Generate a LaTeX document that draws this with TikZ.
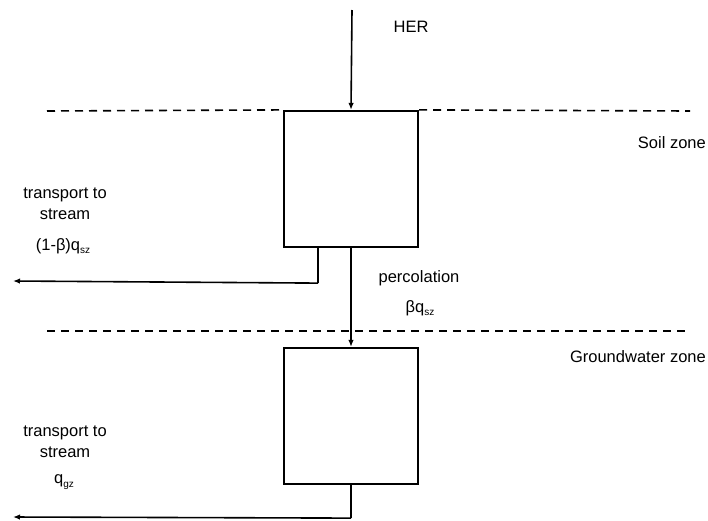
\documentclass[tikz,border=0pt]{standalone}
\usepackage{fontspec}
\setmainfont{Liberation Sans}
\usetikzlibrary{arrows.meta}
\newcommand{\sbs}[1]{\raisebox{-3.5pt}{\fontsize{10}{10}\selectfont #1}}
\begin{document}
\begin{tikzpicture}[x=1pt,y=1pt,
  every node/.style={font=\fontsize{16.5}{21}\selectfont, inner sep=0pt},
  zonebox/.style={draw, line width=2.2pt, minimum width=134pt, minimum height=136pt},
  flow/.style={line width=1.6pt, -{Latex[length=7pt,width=5.5pt]}},
  flowline/.style={line width=1.6pt},
  divider/.style={line width=1.6pt, dash pattern=on 8pt off 6pt},
  lbl/.style={align=center}]
\useasboundingbox (0,0) rectangle (708,-520);
% boxes
\node[zonebox] (soil) at (351,-179) {};
\node[zonebox] (gw) at (351,-416) {};
% zone dividers
\coordinate (d1l) at (47,-111);
\coordinate (d1r) at (690,-111);
\coordinate (d2l) at (47,-331);
\coordinate (d2r) at (690,-331);
\draw[divider] (d1l) -- (soil.north west);
\draw[divider] (soil.north east) -- (d1r);
\draw[divider] (d2l) -- (d2r);
% HER input
\coordinate (herTop) at (352,-10);
\draw[flow] (herTop) -- (soil.north);
\node (her) at (411,-27) {HER};
% percolation
\draw[flow] (soil.south) -- (gw.north);
\node (perc) at (419,-278) {percolation};
\node (beta) at (420,-308) {βq\sbs{sz}};
% transport from soil zone
\coordinate (s1) at ([xshift=-33pt]soil.south);
\coordinate (s1c) at ([xshift=-33pt,yshift=-35pt]soil.south);
\coordinate (s1e) at (13,-281);
\draw[flowline] (s1) -- (s1c);
\draw[flow] (s1c) -- (s1e);
\node[lbl] (t1) at (65,-204) {transport to\\stream};
\node (q1) at (63,-246) {(1-β)q\sbs{sz}};
% transport from groundwater zone
\coordinate (g1c) at ([yshift=-33pt]gw.south);
\coordinate (g1e) at (13,-517);
\draw[flowline] (gw.south) -- (g1c);
\draw[flow] (g1c) -- (g1e);
\node[lbl] (t2) at (65,-442) {transport to\\stream};
\node (q2) at (64,-482) {q\sbs{gz}};
% zone labels
\node[anchor=east] (sz) at (706,-143) {Soil zone};
\node[anchor=east] (gz) at (706,-357) {Groundwater zone};
\end{tikzpicture}
\end{document}
